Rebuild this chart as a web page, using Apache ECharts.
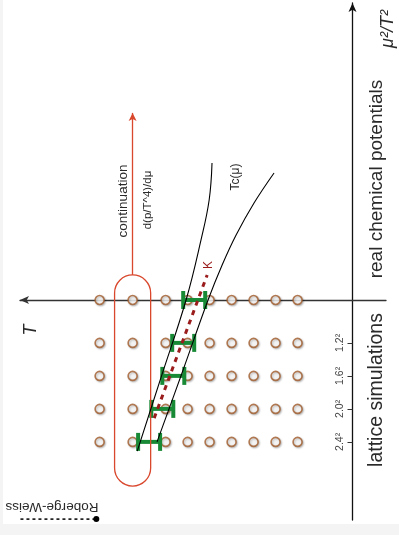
<!DOCTYPE html>
<html>
<head>
<meta charset="utf-8">
<script src="https://cdn.jsdelivr.net/npm/echarts@6/dist/echarts.min.js"></script>
<style>
  html, body { margin: 0; padding: 0; background: #f4f4f4; }
  #paper { position: absolute; left: 3px; top: 0; width: 396px; height: 524px; background: #fff; }
  #chart { position: absolute; left: 0; top: 0; width: 399px; height: 535px; }
</style>
</head>
<body>
<div id="paper"></div>
<div id="chart"></div>
<script>
// Simulation temperatures (one column each) and the imaginary-μ rows
const temperatures = [115, 100, 85, 75, 65, 55, 45, 35, 25];
const muRows = [0, -1.3, -2.3, -3.3, -4.3];

// Tick marks on the μ²/T² axis (imaginary side)
const tickValues = [-1.3, -2.3, -3.3, -4.3];
const tickLabels = ['1.2²', '1.6²', '2.0²', '2.4²'];

// Pseudo-critical temperature found on each row, with its half error
const tcCenters = [72, 77, 81.5, 86.5, 92.5];
const tcHalfWidth = 5;

// Edges of the Tc(μ) band
const tcUpperEdge = [[97.9, -4.58], [87.0, -2.33], [75.7, 0], [68.9, 1.82], [65.2, 3.03], [63.9, 4.15]];
const tcLowerEdge = [[88.9, -4.3], [77.05, -2.12], [65.7, 0], [59.3, 1.06], [52.95, 1.97], [44.8, 2.94], [35.7, 3.85]];

// Curvature line K
const curvatureLine = [[90.2, -3.58], [66.1, 0.76]];

// Analytic continuation of d(p/T^4)/dμ along one temperature
const continuationT = 100;
const continuationHalfWidth = 8.2;
const continuationRange = [0.76, -5.64];
const continuationArrowTop = 5.67;

// Roberge-Weiss line
const robergeWeiss = [[151, -6.64], [116.5, -6.64]];

const FONT = '"Liberation Sans", "DejaVu Sans", sans-serif';
const GREEN = '#188a36';
const RED = '#d9472d';
const BROWN = '#a35c2c';

const chart = echarts.init(document.getElementById('chart'), null, { renderer: 'canvas' });

function nearestLabel(v) {
  let best = 0;
  for (let i = 1; i < tickValues.length; i++) {
    if (Math.abs(tickValues[i] - v) < Math.abs(tickValues[best] - v)) best = i;
  }
  return tickLabels[best];
}

const gridPoints = [];
muRows.forEach(y => temperatures.forEach(t => gridPoints.push([t, y])));

function rotatedText(text, x, y, size, opts) {
  opts = opts || {};
  return {
    type: 'text',
    x: x, y: y,
    rotation: opts.rotation !== undefined ? opts.rotation : Math.PI / 2,
    silent: true,
    style: {
      text: text,
      x: 0, y: 0,
      align: 'center',
      verticalAlign: 'middle',
      fill: opts.color || '#2a2a2a',
      font: (opts.italic ? 'italic ' : '') + size + 'px ' + FONT
    }
  };
}

chart.setOption({
  animation: false,
  grid: { left: 20, right: 13, top: 3, bottom: 15 },
  xAxis: {
    type: 'value',
    inverse: true,
    min: -15.2,
    max: 151.2,
    axisLine: {
      onZero: true,
      symbol: ['arrow', 'none'],
      symbolSize: [6, 9],
      lineStyle: { color: '#333', width: 1.3 }
    },
    axisTick: { show: false },
    axisLabel: { show: false },
    splitLine: { show: false }
  },
  yAxis: {
    type: 'value',
    position: 'right',
    offset: -33.5,
    min: -6.667,
    max: 9,
    axisLine: {
      show: true,
      onZero: false,
      symbol: ['none', 'arrow'],
      symbolSize: [6, 9],
      lineStyle: { color: '#111', width: 1.3 }
    },
    axisTick: { show: true, inside: true, customValues: tickValues, length: 5, lineStyle: { color: '#333' } },
    axisLabel: {
      show: true,
      inside: true,
      customValues: tickValues,
      rotate: 90,
      margin: 7,
      fontSize: 10.5,
      fontFamily: FONT,
      color: '#444',
      formatter: v => nearestLabel(v)
    },
    splitLine: { show: false }
  },
  series: [
    {
      name: 'simulations',
      type: 'scatter',
      data: gridPoints,
      symbol: 'circle',
      symbolSize: 9,
      itemStyle: {
        color: '#fff',
        borderColor: BROWN,
        borderWidth: 1.6,
        shadowColor: 'rgba(0,0,0,0.3)',
        shadowBlur: 2,
        shadowOffsetX: 1,
        shadowOffsetY: 1
      },
      z: 2
    },
    {
      name: 'Tc errors',
      type: 'custom',
      clip: false,
      data: tcCenters.map((c, i) => [c, muRows[i], tcHalfWidth]),
      encode: { x: 0, y: 1 },
      renderItem: function (params, api) {
        const c = api.value(0), y = api.value(1), hw = api.value(2);
        const a = api.coord([c + hw, y]);
        const b = api.coord([c - hw, y]);
        const cap = 9;
        const st = { stroke: GREEN, lineWidth: 4 };
        return {
          type: 'group',
          children: [
            { type: 'line', shape: { x1: a[0], y1: a[1], x2: b[0], y2: b[1] }, style: st },
            { type: 'line', shape: { x1: a[0], y1: a[1] - cap, x2: a[0], y2: a[1] + cap }, style: st },
            { type: 'line', shape: { x1: b[0], y1: b[1] - cap, x2: b[0], y2: b[1] + cap }, style: st }
          ]
        };
      },
      z: 3
    },
    {
      name: 'Tc upper',
      type: 'line',
      data: tcUpperEdge,
      smooth: 0.4,
      showSymbol: false,
      lineStyle: { color: '#000', width: 1.1 },
      z: 4
    },
    {
      name: 'Tc lower',
      type: 'line',
      data: tcLowerEdge,
      smooth: 0.4,
      showSymbol: false,
      lineStyle: { color: '#000', width: 1.1 },
      z: 4
    },
    {
      name: 'K',
      type: 'line',
      data: curvatureLine,
      showSymbol: false,
      lineStyle: { color: '#9a1c1c', width: 3, type: [5, 5] },
      z: 5
    },
    {
      name: 'continuation',
      type: 'custom',
      clip: false,
      data: [[continuationT, continuationRange[0], continuationRange[1], continuationHalfWidth]],
      encode: { x: 0, y: 1 },
      renderItem: function (params, api) {
        const t = api.value(0), hw = api.value(3);
        const a = api.coord([t + hw, api.value(1)]);
        const b = api.coord([t - hw, api.value(2)]);
        const w = b[0] - a[0];
        return {
          type: 'rect',
          shape: { x: a[0], y: a[1], width: w, height: b[1] - a[1], r: w / 2 },
          style: { fill: 'none', stroke: RED, lineWidth: 1.3 }
        };
      },
      markLine: {
        silent: true,
        symbol: ['none', 'arrow'],
        symbolSize: [6, 8],
        label: { show: false },
        lineStyle: { color: RED, width: 1.3, type: 'solid' },
        data: [[{ coord: [continuationT, continuationRange[0]] }, { coord: [continuationT, continuationArrowTop] }]]
      },
      z: 3
    },
    {
      name: 'Roberge-Weiss',
      type: 'line',
      clip: false,
      data: [
        { value: robergeWeiss[0], symbol: 'none' },
        { value: robergeWeiss[1], symbol: 'circle', symbolSize: 6 }
      ],
      showSymbol: true,
      itemStyle: { color: '#000' },
      lineStyle: { color: '#000', width: 1.5, type: [3, 3] },
      z: 4
    }
  ],
  graphic: [
    rotatedText('μ²/T²', 388, 29, 18, { italic: true }),
    rotatedText('real chemical potentials', 377, 179, 19),
    rotatedText('lattice simulations', 377, 390, 19.5),
    rotatedText('T', 31, 330, 18, { italic: true }),
    rotatedText('continuation', 123, 201, 13.5),
    rotatedText('d(p/T^4)/dμ', 148, 200, 11.5),
    rotatedText('Tc(μ)', 236, 177, 12),
    rotatedText('K', 209, 265, 12, { color: '#9a1c1c' }),
    rotatedText('Roberge-Weiss', 52, 507, 13.5, { rotation: Math.PI })
  ]
});
</script>
</body>
</html>
